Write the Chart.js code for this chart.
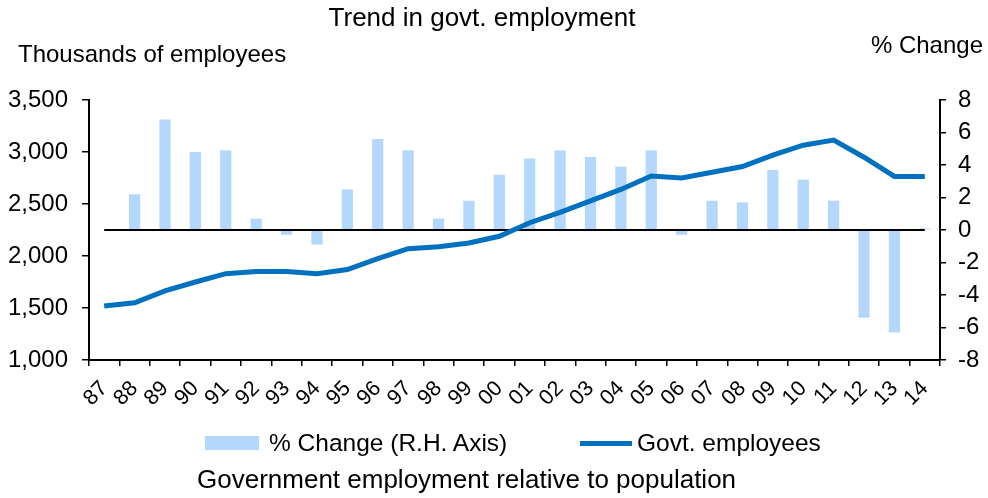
<!DOCTYPE html>
<html>
<head>
<meta charset="utf-8">
<script src="https://cdn.jsdelivr.net/npm/chart.js@4"></script>
<style>
  body { margin: 0; background: #fff; }
  #wrap { position: relative; width: 988px; height: 498px; font-family: 'Liberation Sans', Arial, sans-serif; color: #000; }
  #wrap canvas { position: absolute; left: 0; top: 0; }
  .txt { position: absolute; white-space: nowrap; line-height: 1; }
</style>
</head>
<body>
<div id="wrap">
  <canvas id="govt-chart" width="988" height="498"></canvas>
  <div class="txt" style="left:0;width:964px;text-align:center;top:4px;font-size:26px;">Trend in govt. employment</div>
  <div class="txt" style="left:18px;top:42px;font-size:24px;">Thousands of employees</div>
  <div class="txt" style="right:5px;top:33px;font-size:24px;">% Change</div>
  <!-- leyenda -->
  <div class="txt" style="left:205px;top:436px;width:54px;height:14px;background:#b4d8fb;"></div>
  <div class="txt" style="left:269px;top:431px;font-size:24.5px;">% Change (R.H. Axis)</div>
  <div class="txt" style="left:580px;top:441px;width:52px;height:5px;background:#0070c0;"></div>
  <div class="txt" style="left:637px;top:431px;font-size:24.5px;">Govt. employees</div>
  <div class="txt" style="left:197px;top:466px;font-size:26px;">Government employment relative to population</div>
</div>
<script>
//!datos del grafico
const years = ['87','88','89','90','91','92','93','94','95','96','97','98','99','00',
               '01','02','03','04','05','06','07','08','09','10','11','12','13','14']
const govtEmployees = [1520,1550,1665,1750,1830,1850,1850,1830,1870,1975,2070,2090,2125,2190,
                       2320,2420,2530,2640,2770,2750,2805,2860,2970,3065,3115,2950,2765,2765]
const pctChange = [null,2.2,6.8,4.8,4.9,0.7,-0.3,-0.9,2.5,5.6,4.9,0.7,1.8,3.4,
                   4.4,4.9,4.5,3.9,4.9,-0.3,1.8,1.7,3.7,3.1,1.8,-5.4,-6.3,0.1]
const leftTicks = [1000, 3500, 500]
const rightTicks = [-8, 8, 2]

Chart.defaults.font.family = "'Liberation Sans', Arial, sans-serif"
Chart.defaults.color = '#000'

//!linea del cero, de la primera a la ultima categoria
const zeroLine = {
    id: 'zeroLine',
    afterDatasetDraw(chart, args){
        if(args.index !== 0) return
        const x = chart.scales.x
        const y = chart.scales.y1.getPixelForValue(0)
        const ctx = chart.ctx
        ctx.save()
        ctx.strokeStyle = '#000'
        ctx.lineWidth = 2
        ctx.beginPath()
        ctx.moveTo(x.getPixelForValue(0), y)
        ctx.lineTo(x.getPixelForValue(years.length - 1), y)
        ctx.stroke()
        ctx.restore()
    }
}

const ctx = document.querySelector('#govt-chart').getContext('2d')
const myChart = new Chart(ctx, {
    data: {
        labels: years,
        datasets: [
            {
                type: 'bar',
                label: '% Change (R.H. Axis)',
                data: pctChange,
                yAxisID: 'y1',
                backgroundColor: '#b4d8fb',
                barPercentage: 0.37,
                categoryPercentage: 1,
                order: 2
            },
            {
                type: 'line',
                label: 'Govt. employees',
                data: govtEmployees,
                yAxisID: 'y',
                borderColor: '#0070c0',
                borderWidth: 5,
                pointRadius: 0,
                tension: 0,
                borderCapStyle: 'butt',
                order: 1
            }
        ]
    },
    options: {
        responsive: false,
        animation: false,
        layout: { padding: { top: 100, left: 0, right: 0, bottom: 0 } },
        plugins: { legend: { display: false }, tooltip: { enabled: false } },
        scales: {
            x: {
                offset: true,
                grid: { offset: true, drawOnChartArea: false, tickLength: 6, color: '#000', lineWidth: 1.5 },
                border: { color: '#000', width: 2 },
                ticks: { autoSkip: false, minRotation: 45, maxRotation: 45, padding: 10, font: { size: 21.5 } },
                afterFit: s => { s.height = 138 }
            },
            y: {
                position: 'left',
                min: leftTicks[0], max: leftTicks[1],
                ticks: { stepSize: leftTicks[2], padding: 14, font: { size: 24 } },
                grid: { drawOnChartArea: false, tickLength: 7, color: '#000', lineWidth: 1.5 },
                border: { color: '#000', width: 2 },
                afterFit: s => { s.width = 89 }
            },
            y1: {
                position: 'right',
                min: rightTicks[0], max: rightTicks[1],
                ticks: { stepSize: rightTicks[2], padding: 12, font: { size: 24 } },
                grid: { drawOnChartArea: false, tickLength: 6, color: '#000', lineWidth: 1.5 },
                border: { color: '#000', width: 2 },
                afterFit: s => { s.width = 48 }
            }
        }
    },
    plugins: [zeroLine]
})
</script>
</body>
</html>
